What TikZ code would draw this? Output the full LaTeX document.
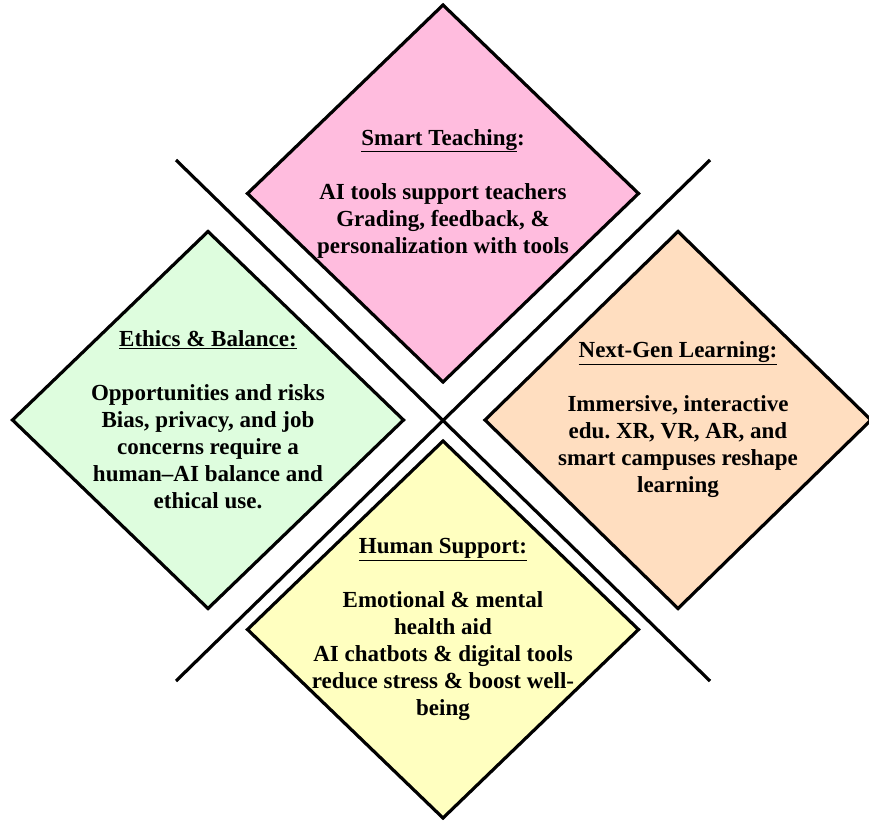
\documentclass[tikz,border=0pt]{standalone}
\usepackage{fontspec}
\setmainfont{Liberation Serif}
\usetikzlibrary{shapes.geometric}
\definecolor{cpink}{RGB}{255,188,222}
\definecolor{cgreen}{RGB}{222,253,222}
\definecolor{corange}{RGB}{255,222,192}
\definecolor{cyellow}{RGB}{255,255,192}
\tikzset{
  dia/.style={draw=black, line width=3.2pt, shape=diamond, inner sep=0pt, outer sep=0pt,
    minimum width=391pt, minimum height=377pt},
  txt/.style={align=center, font=\bfseries\fontsize{23}{27}\selectfont, inner sep=0pt},
  sep/.style={draw=black, line width=3.2pt}
}
\frenchspacing
\begin{document}
\begin{tikzpicture}[x=1pt,y=-1pt]
\useasboundingbox (0,0) rectangle (869,821);
\coordinate (l1a) at (176,160);
\coordinate (l1b) at (710,681);
\coordinate (l2a) at (710,160);
\coordinate (l2b) at (176,681);
\draw[sep] (l1a) -- (l1b);
\draw[sep] (l2a) -- (l2b);
\node[dia, fill=cpink] (top) at (443,193.5) {};
\node[dia, fill=cgreen] (left) at (208,420) {};
\node[dia, fill=corange, minimum width=386pt] (right) at (678,420) {};
\node[dia, fill=cyellow] (bottom) at (443,629.5) {};
\node[txt] (ttop) at (top.center) {\underline{Smart Teaching}:\\[27pt]AI tools support teachers\\Grading, feedback, \&\\personalization with tools};
\node[txt] (tleft) at (left.center) {\underline{Ethics \& Balance:}\\[27pt]Opportunities and risks\\Bias, privacy, and job\\concerns require a\\human–AI balance and\\ethical use.};
\node[txt] (tright) at (right.center) {\underline{Next-Gen Learning:}\\[27pt]Immersive, interactive\\edu. XR, VR, AR, and\\smart campuses reshape\\learning};
\node[txt] (tbottom) at (bottom.center) {\underline{Human Support:}\\[27pt]Emotional \& mental\\health aid\\AI chatbots \& digital tools\\reduce stress \& boost well-\\being};
\end{tikzpicture}
\end{document}
